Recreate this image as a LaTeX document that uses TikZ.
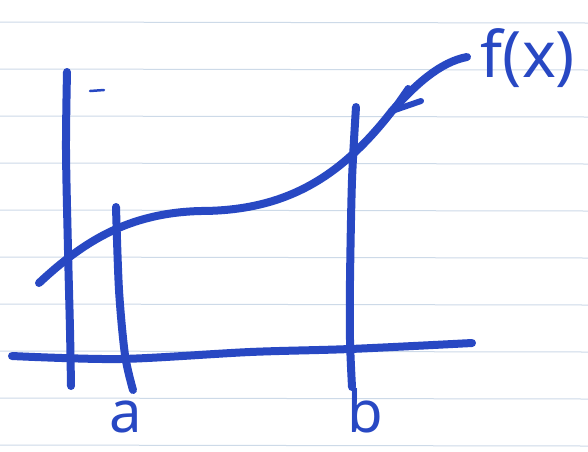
\documentclass[tikz,border=0pt]{standalone}
\usepackage{fontspec}
\setmainfont{Noto Sans}
\definecolor{ink}{RGB}{40,72,195}
\definecolor{paperline}{RGB}{205,218,232}
\begin{document}
\begin{tikzpicture}[x=1pt,y=-1pt,
  pen/.style={draw=ink,line width=8pt,line cap=round,line join=round},
  thinpen/.style={draw=ink,line width=2.5pt,line cap=round},
  lbl/.style={text=ink,inner sep=0pt,font=\fontsize{58}{58}\selectfont\bfseries}]
\useasboundingbox (0,0) rectangle (588,451);
\fill[white] (0,0) rectangle (588,451);
\foreach \y in {22,69,116,163,210,257,304,351,398,445}
  \draw[paperline,line width=1pt] (0,\y) -- (588,\y+1);
% axes
\draw[pen] plot[smooth] coordinates {(67,72) (66,150) (68,250) (70,330) (71,386)};
\draw[thinpen] (90,91) -- (104,90);
\draw[pen] plot[smooth] coordinates {(12,356) (120,359) (250,352) (350,349) (472,343)};
% bounds a and b
\draw[pen] plot[smooth] coordinates {(116,207) (119,290) (125,355) (133,390)};
\draw[pen] plot[smooth] coordinates {(356,107) (352,180) (350,280) (350,340) (352,387)};
% curve f(x)
\coordinate (fstart) at (39,283);
\coordinate (fmid) at (200,211);
\coordinate (ftip) at (392,111);
\draw[pen] (fstart) .. controls (85,240) and (130,213) .. (fmid)
                    .. controls (285,211) and (340,178) .. (ftip);
% labels
\node[lbl,font=\fontsize{64}{64}\selectfont\bfseries] (fx) at (528,58) {f(x)};
\node[lbl,anchor=base,text depth=0pt] (la) at (126,432) {a};
\node[lbl,anchor=base,text depth=0pt] (lb) at (365,432) {b};
% arrow to the curve
\coordinate (astart) at (467,57);
\draw[pen] (astart) .. controls (440,62) and (415,85) .. (ftip);
\draw[pen,line width=6pt] (ftip) -- (408,88);
\draw[pen,line width=6pt] (ftip) -- (421,101);
\end{tikzpicture}
\end{document}
